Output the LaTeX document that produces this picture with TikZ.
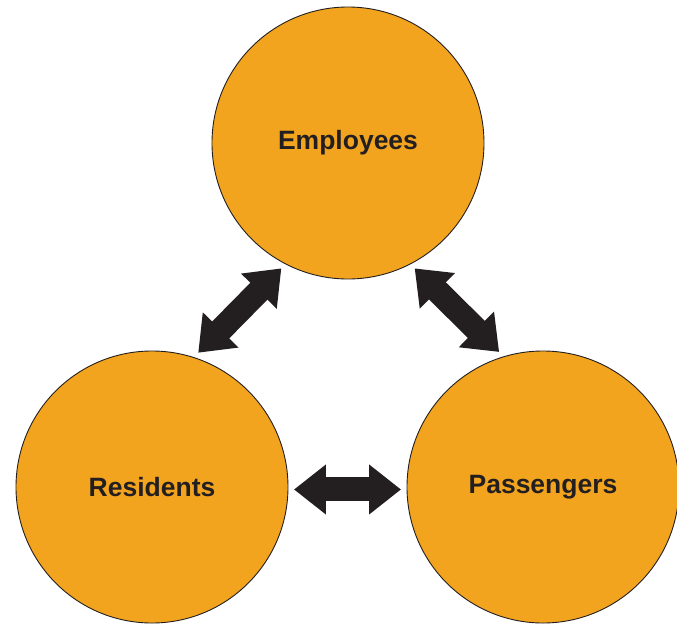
\documentclass[tikz,border=0pt]{standalone}
\usepackage{fontspec}
\setmainfont{Liberation Sans}
\usepackage{xcolor}
\usepackage{tikz}
\usetikzlibrary{arrows.meta}
\definecolor{ink}{HTML}{231F20}
\definecolor{amber}{HTML}{F2A41F}
\tikzset{
  group/.style={circle, draw=ink, line width=0.9pt, fill=amber, minimum size=272pt,
    inner sep=0pt, outer sep=6pt, text=ink, font=\fontsize{26.5}{30}\selectfont\bfseries},
  link/.style={draw=ink, line width=24pt, line cap=butt,
    {Triangle[length=32pt,width=48pt]}-{Triangle[length=32pt,width=48pt]}},
}

\begin{document}
\begin{tikzpicture}[x=1pt,y=-1pt]
  \useasboundingbox (0,0) rectangle (677,624);
  \node[group] (emp) at (348,143) {Employees};
  \node[group] (res) at (152,487) {Residents};
  \node[group] (pas) at (543,487) {Passengers};
  \draw[link] (emp.242) -- (res.71);
  \draw[link] (emp.298) -- (pas.108);
  \draw[link] (res.-1) -- (pas.181);
\end{tikzpicture}
\end{document}
